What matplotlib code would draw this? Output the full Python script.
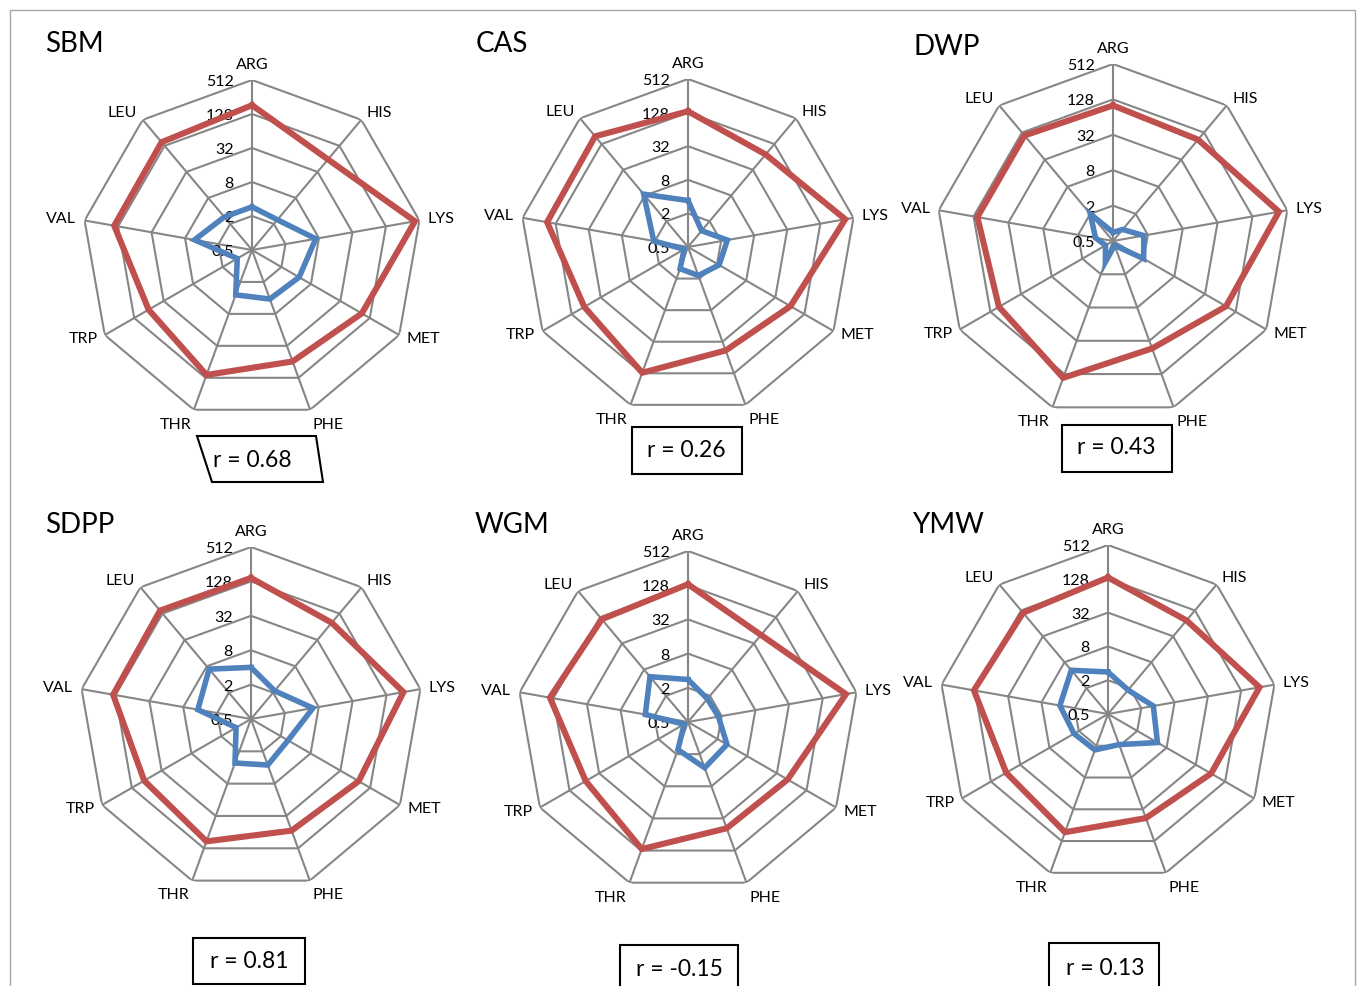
import numpy as np
import matplotlib
matplotlib.use("Agg")
import matplotlib.pyplot as plt
from matplotlib.patches import Rectangle, Polygon

plt.rcParams['font.family'] = ['Lato', 'DejaVu Sans']

W, H = 1357, 986

# --- data -------------------------------------------------------------
amino = ["ARG", "HIS", "LYS", "MET", "PHE", "THR", "TRP", "VAL", "LEU"]
ring_values = [0.5, 2, 8, 32, 128, 512]
ring_labels = ["0.5", "2", "8", "32", "128", "512"]

panels = ["SBM", "CAS", "DWP", "SDPP", "WGM", "YMW"]
r_labels = ["r = 0.68", "r = 0.26", "r = 0.43", "r = 0.81", "r = -0.15", "r = 0.13"]

sbm_red = [183, 62, 426, 88, 63, 113, 65, 150, 155]
sbm_blue = [2.9, 2.5, 7.0, 4.6, 4.2, 3.5, 1.0, 5.4, 2.9]
cas_red = [135, 73, 363, 66, 47, 125, 70, 183, 194]
cas_blue = [3.4, 1.2, 2.6, 2.2, 1.75, 1.3, 0.6, 2.1, 8.6]
dwp_red = [101, 89, 367, 83, 44, 150, 87, 110, 110]
dwp_blue = [0.7, 0.9, 1.7, 2.0, 0.6, 1.2, 0.7, 1.0, 2.0]
sdpp_red = [147, 79, 256, 75, 60, 95, 72, 141, 150]
sdpp_blue = [4.0, 2.2, 6.3, 2.8, 3.6, 3.3, 1.0, 4.4, 6.9]
wgm_red = [133, 50, 333, 53, 49, 120, 60, 147, 115]
wgm_blue = [2.8, 1.7, 1.75, 3.1, 3.6, 1.65, 0.6, 2.9, 5.5]
ymw_red = [135, 75, 275, 66, 47, 87, 62, 133, 113]
ymw_blue = [2.8, 1.8, 3.3, 5.2, 1.9, 2.4, 2.5, 3.7, 5.2]

red_series = [sbm_red, cas_red, dwp_red, sdpp_red, wgm_red, ymw_red]
blue_series = [sbm_blue, cas_blue, dwp_blue, sdpp_blue, wgm_blue, ymw_blue]

# --- layout (pixels) --------------------------------------------------
centres = [(252, 250), (688, 247), (1113, 241), (251, 719), (688, 722), (1108, 714)]
radii = [170, 168, 177, 172, 171, 169]
title_pos = [(45, 52), (476, 52), (913, 55), (45, 533), (475, 533), (912, 533)]
box_pos = [None, (632, 427, 742, 474), (1062, 425, 1172, 472),
           (193, 938, 305, 984), (620, 945, 738, 992), (1049, 943, 1159, 992)]
box_text = [(252, 467), (686, 457), (1116, 454), (249, 968), (679, 976), (1105, 975)]

RED = '#C0504D'
BLUE = '#4F81BD'
GRID = '#868686'

fig = plt.figure(figsize=(W / 100, H / 100), dpi=100)


def fx(x):
    return x / W


def fy(y):
    return 1 - y / H


# outer border
fig.patches.append(Rectangle((fx(10), fy(996)), fx(1355) - fx(10), fy(10) - fy(996),
                             transform=fig.transFigure, fill=False,
                             edgecolor='#A6A6A6', lw=1.0))

angles = np.arange(len(amino)) * 2 * np.pi / len(amino)
closed = np.append(angles, angles[0])

for i, name in enumerate(panels):
    cx, cy = centres[i]
    R = radii[i]
    ax = fig.add_axes([fx(cx - R), fy(cy + R), 2 * R / W, 2 * R / H], projection='polar')
    ax.set_theta_zero_location('N')
    ax.set_theta_direction(-1)
    ax.set_rscale('log')
    ax.grid(False)
    ax.patch.set_visible(False)
    ax.spines['polar'].set_visible(False)

    # polygon grid
    for rv in ring_values[1:]:
        ax.plot(closed, [rv] * len(closed), color=GRID, lw=1.5, zorder=1)
    for a in angles:
        ax.plot([a, a], [ring_values[0], ring_values[-1]], color=GRID, lw=1.5, zorder=1)

    red = red_series[i]
    blue = blue_series[i]
    ax.plot(closed, red + red[:1], color=RED, lw=4.4, zorder=3,
            solid_joinstyle='miter')
    ax.plot(closed, blue + blue[:1], color=BLUE, lw=4.0, zorder=4,
            solid_joinstyle='miter')

    ax.set_xticks([])
    ax.set_yticks([])
    ax.set_rlim(ring_values[0], ring_values[-1])

    # ring labels along ARG spoke
    for rv, lab in zip(ring_values, ring_labels):
        ax.annotate(lab, xy=(0, rv), xytext=(-13, -1.5), textcoords='offset points',
                    ha='right', va='center', fontsize=11.5, color='black', zorder=2)

    # category labels
    for a, lab in zip(angles, amino):
        s, c = np.sin(a), np.cos(a)
        if s > 0.1:
            ha = 'left'
        elif s < -0.1:
            ha = 'right'
        else:
            ha = 'center'
        if c > 0.9:
            va = 'bottom'
        elif c < -0.9:
            va = 'top'
        else:
            va = 'center'
        ax.annotate(lab, xy=(a, ring_values[-1]), xytext=(6 * s, 6 * c),
                    textcoords='offset points', ha=ha, va=va, fontsize=11.5)

    tx, ty = title_pos[i]
    fig.text(fx(tx), fy(ty), name, fontsize=20, ha='left', va='baseline')

    # correlation box
    if box_pos[i] is None:
        pts = [(197, 436), (316, 436), (323, 482), (212, 482)]
        fig.patches.append(Polygon([(fx(x), fy(y)) for x, y in pts], closed=True,
                                   transform=fig.transFigure, fill=False,
                                   edgecolor='black', lw=1.5))
    else:
        x0, y0, x1, y1 = box_pos[i]
        fig.patches.append(Rectangle((fx(x0), fy(y1)), fx(x1) - fx(x0), fy(y0) - fy(y1),
                                     transform=fig.transFigure, fill=False,
                                     edgecolor='black', lw=1.5))
    bx, by = box_text[i]
    fig.text(fx(bx), fy(by), r_labels[i], fontsize=16.5, ha='center', va='baseline')

fig.savefig('out.png', dpi=100)
